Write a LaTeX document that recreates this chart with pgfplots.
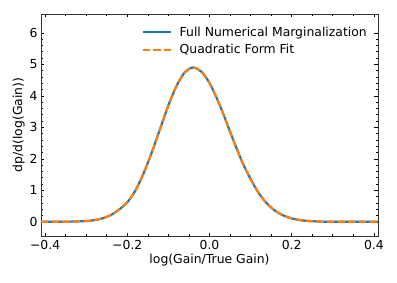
\documentclass[border=0pt]{standalone}
\usepackage{pgfplots}
\pgfplotsset{compat=1.18}
\usepackage{fontspec}
\setmainfont{DejaVu Sans}
\definecolor{tabblue}{HTML}{1F77B4}
\definecolor{taborange}{HTML}{FF7F0E}
\begin{document}
\begin{tikzpicture}
\useasboundingbox (-41bp,-47bp) rectangle (356bp,236bp);
\begin{axis}[
  at={(0,0)}, anchor=south west,
  scale only axis, width=337bp, height=222bp,
  xmin=-0.41, xmax=0.41, ymin=-0.45, ymax=6.6,
  xtick={-0.4,-0.2,0,0.2,0.4},
  xticklabels={−0.4,−0.2,0.0,0.2,0.4},
  ytick={0,1,2,3,4,5,6},
  yticklabels={0,1,2,3,4,5,6},
  minor x tick num=3, minor y tick num=4,
  tick align=inside, tick pos=both,
  major tick length=3.5bp, minor tick length=2bp,
  every tick/.style={black, line width=0.6bp},
  axis line style={line width=0.8bp, black!80},
  xlabel={log(Gain/True Gain)}, ylabel={dp/d(log(Gain))},
  label style={font=\fontsize{12.4bp}{14bp}\selectfont},
  tick label style={font=\fontsize{12.4bp}{14bp}\selectfont},
  xticklabel style={yshift=-1bp},
  ylabel style={yshift=-2bp},
  xlabel style={yshift=3bp},
  legend style={at={(0.982,0.962)}, anchor=north east, draw=none, fill=none,
    font=\fontsize{12.4bp}{14bp}\selectfont, row sep=3bp},
  legend cell align=left,
  legend image code/.code={\draw[#1] (0bp,0bp) -- (28bp,0bp);\path (34bp,0bp);},
]
\addplot[tabblue, line width=2.2bp, smooth] coordinates {
(-0.41,0.0001) (-0.35,0.0027) (-0.30,0.025) (-0.28,0.054) (-0.26,0.112)
(-0.24,0.215) (-0.22,0.39) (-0.20,0.62) (-0.18,1.0) (-0.16,1.55)
(-0.14,2.22) (-0.12,2.96) (-0.10,3.70) (-0.08,4.32) (-0.06,4.75)
(-0.04,4.90) (-0.02,4.77) (0.00,4.41) (0.02,3.86) (0.04,3.21)
(0.06,2.53) (0.08,1.89) (0.10,1.36) (0.12,0.91) (0.14,0.58)
(0.16,0.35) (0.18,0.20) (0.20,0.109) (0.22,0.056) (0.24,0.028)
(0.27,0.0086) (0.30,0.0024) (0.35,0.0003) (0.41,0.0)
};
\addlegendentry{Full Numerical Marginalization}
\addplot[taborange, line width=2.2bp, dash pattern=on 7.4bp off 3.2bp, smooth] coordinates {
(-0.41,0.0001) (-0.35,0.0027) (-0.30,0.025) (-0.28,0.054) (-0.26,0.112)
(-0.24,0.215) (-0.22,0.39) (-0.20,0.62) (-0.18,1.0) (-0.16,1.55)
(-0.14,2.22) (-0.12,2.96) (-0.10,3.70) (-0.08,4.32) (-0.06,4.75)
(-0.04,4.90) (-0.02,4.77) (0.00,4.41) (0.02,3.86) (0.04,3.21)
(0.06,2.53) (0.08,1.89) (0.10,1.36) (0.12,0.91) (0.14,0.58)
(0.16,0.35) (0.18,0.20) (0.20,0.109) (0.22,0.056) (0.24,0.028)
(0.27,0.0086) (0.30,0.0024) (0.35,0.0003) (0.41,0.0)
};
\addlegendentry{Quadratic Form Fit}
\end{axis}
\end{tikzpicture}
\end{document}
